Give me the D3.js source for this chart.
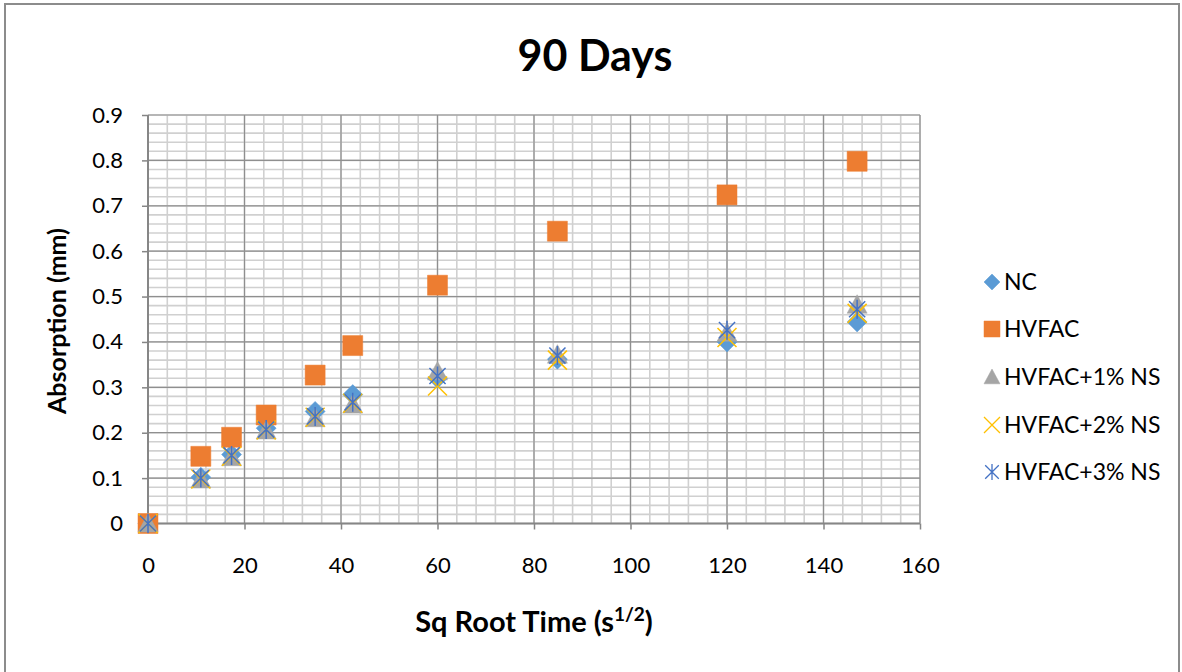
<!DOCTYPE html>
<html><head><meta charset="utf-8">
<script src="https://cdn.jsdelivr.net/npm/d3@7"></script>
<style>body{margin:0;background:#fff;} text{font-family:Lato,"Open Sans",sans-serif;fill:#000;}</style>
</head><body>
<svg id="c" width="1182" height="672"></svg>
<script>
const xValues = [0, 10.95, 17.32, 24.49, 34.64, 42.43, 60, 84.85, 120, 146.97];
const seriesNames = ["NC", "HVFAC", "HVFAC+1% NS", "HVFAC+2% NS", "HVFAC+3% NS"];
const ncValues    = [0, 0.102, 0.152, 0.210, 0.247, 0.284, 0.320, 0.362, 0.400, 0.444];
const hvfacValues = [0, 0.148, 0.190, 0.239, 0.327, 0.392, 0.525, 0.644, 0.724, 0.798];
const ns1Values   = [0, 0.097, 0.146, 0.205, 0.232, 0.262, 0.335, 0.372, 0.420, 0.482];
const ns2Values   = [0, 0.098, 0.148, 0.206, 0.234, 0.265, 0.303, 0.360, 0.410, 0.463];
const ns3Values   = [0, 0.100, 0.150, 0.207, 0.236, 0.267, 0.325, 0.370, 0.426, 0.472];
const xTicks = [0, 20, 40, 60, 80, 100, 120, 140, 160];
const yTicks = [0, 0.1, 0.2, 0.3, 0.4, 0.5, 0.6, 0.7, 0.8, 0.9];
const yTickLabels = ["0", "0.1", "0.2", "0.3", "0.4", "0.5", "0.6", "0.7", "0.8", "0.9"];

const svg = d3.select("#c");
const x = d3.scaleLinear().domain([0, 160]).range([148, 920]);
const y = d3.scaleLinear().domain([0, 0.9]).range([523.5, 115]);

// outer border
svg.append("rect").attr("x", 5).attr("y", 4).attr("width", 1174).attr("height", 700)
  .attr("fill", "none").attr("stroke", "#8c8c8c").attr("stroke-width", 2);

// minor grid
const g = svg.append("g");
g.selectAll(".vmin").data(d3.range(0, 161, 4)).join("line")
  .attr("x1", d => x(d)).attr("x2", d => x(d)).attr("y1", y(0.9)).attr("y2", y(0))
  .attr("stroke", "#d0d0d0").attr("stroke-width", 1.6);
g.selectAll(".hmin").data(d3.range(0, 46).map(i => i * 0.02)).join("line")
  .attr("x1", x(0)).attr("x2", x(160)).attr("y1", d => y(d)).attr("y2", d => y(d))
  .attr("stroke", "#d0d0d0").attr("stroke-width", 1.6);
// major grid
g.selectAll(".vmaj").data(xTicks).join("line")
  .attr("x1", d => x(d)).attr("x2", d => x(d)).attr("y1", y(0.9)).attr("y2", y(0))
  .attr("stroke", "#8f8f8f").attr("stroke-width", 1.2);
g.selectAll(".hmaj").data(yTicks).join("line")
  .attr("x1", x(0)).attr("x2", x(160)).attr("y1", d => y(d)).attr("y2", d => y(d))
  .attr("stroke", "#8f8f8f").attr("stroke-width", 1.2);

// axes
const xAxis = d3.axisBottom(x).tickValues(xTicks).tickSize(6).tickPadding(28);
const yAxis = d3.axisLeft(y).tickValues(yTicks).tickSize(6).tickPadding(19)
  .tickFormat((d, i) => yTickLabels[i]);
const gx = svg.append("g").attr("transform", `translate(0,${y(0)})`).call(xAxis);
const gy = svg.append("g").attr("transform", `translate(${x(0)},0)`).call(yAxis);
[gx, gy].forEach(a => {
  a.select(".domain").attr("stroke", "#868686").attr("stroke-width", 2);
  a.selectAll(".tick line").attr("stroke", "#868686").attr("stroke-width", 1.5);
  a.selectAll("text").style("font-family", "Lato").style("font-size", "22px").attr("fill", "#000");
});
gy.select(".domain").attr("d", `M0,${y(0.9)}V${y(0)}`);
gx.select(".domain").attr("d", `M${x(0)},0H${x(160)}`);

// symbols
function sym(type, s) {
  const h = s / 2;
  if (type === "diamond") return `M0,${-h}L${h},0L0,${h}L${-h},0Z`;
  if (type === "square") return `M${-h},${-h}H${h}V${h}H${-h}Z`;
  if (type === "triangle") return `M0,${-h}L${h},${h * 0.85}L${-h},${h * 0.85}Z`;
  if (type === "x") return `M${-h},${-h}L${h},${h}M${h},${-h}L${-h},${h}`;
  if (type === "star") return `M${-h * 0.85},${-h * 0.85}L${h * 0.85},${h * 0.85}M${h * 0.85},${-h * 0.85}L${-h * 0.85},${h * 0.85}M0,${-h}V${h}`;
}
const series = [
  {name: seriesNames[0], values: ncValues, type: "diamond", color: "#5B9BD5", fill: true, size: 20},
  {name: seriesNames[1], values: hvfacValues, type: "square", color: "#ED7D31", fill: true, size: 20},
  {name: seriesNames[2], values: ns1Values, type: "triangle", color: "#A5A5A5", fill: true, size: 20},
  {name: seriesNames[3], values: ns2Values, type: "x", color: "#FFC000", fill: false, size: 19},
  {name: seriesNames[4], values: ns3Values, type: "star", color: "#4472C4", fill: false, size: 19},
];
series.forEach(s => {
  svg.append("g").selectAll("path").data(s.values).join("path")
    .attr("transform", (d, i) => `translate(${x(xValues[i])},${y(d)})`)
    .attr("d", sym(s.type, s.size))
    .attr("fill", s.fill ? s.color : "none")
    .attr("stroke", s.color).attr("stroke-width", s.fill ? 0.5 : 1.5);
});

// legend
const legY = [282, 329, 377, 425, 472];
const leg = svg.append("g");
series.forEach((s, i) => {
  leg.append("path").attr("transform", `translate(992,${legY[i]})`)
    .attr("d", sym(s.type, 16))
    .attr("fill", s.fill ? s.color : "none")
    .attr("stroke", s.color).attr("stroke-width", s.fill ? 0.5 : 1.3);
  leg.append("text").attr("x", 1004).attr("y", legY[i] + 8)
    .style("font-size", "23px").text(s.name);
});

// titles
svg.append("text").attr("x", 595).attr("y", 71).attr("text-anchor", "middle")
  .style("font-size", "43px").style("font-weight", "bold").text("90 Days");
const xt = svg.append("text").attr("x", 534).attr("y", 632).attr("text-anchor", "middle")
  .style("font-size", "29px").style("font-weight", "bold");
xt.append("tspan").text("Sq Root Time (s");
xt.append("tspan").attr("dy", -11).style("font-size", "19px").text("1/2");
xt.append("tspan").attr("dy", 11).text(")");
svg.append("text").attr("transform", "translate(66,321) rotate(-90)").attr("text-anchor", "middle")
  .style("font-size", "25px").style("font-weight", "bold").text("Absorption (mm)");
</script>
</body></html>
